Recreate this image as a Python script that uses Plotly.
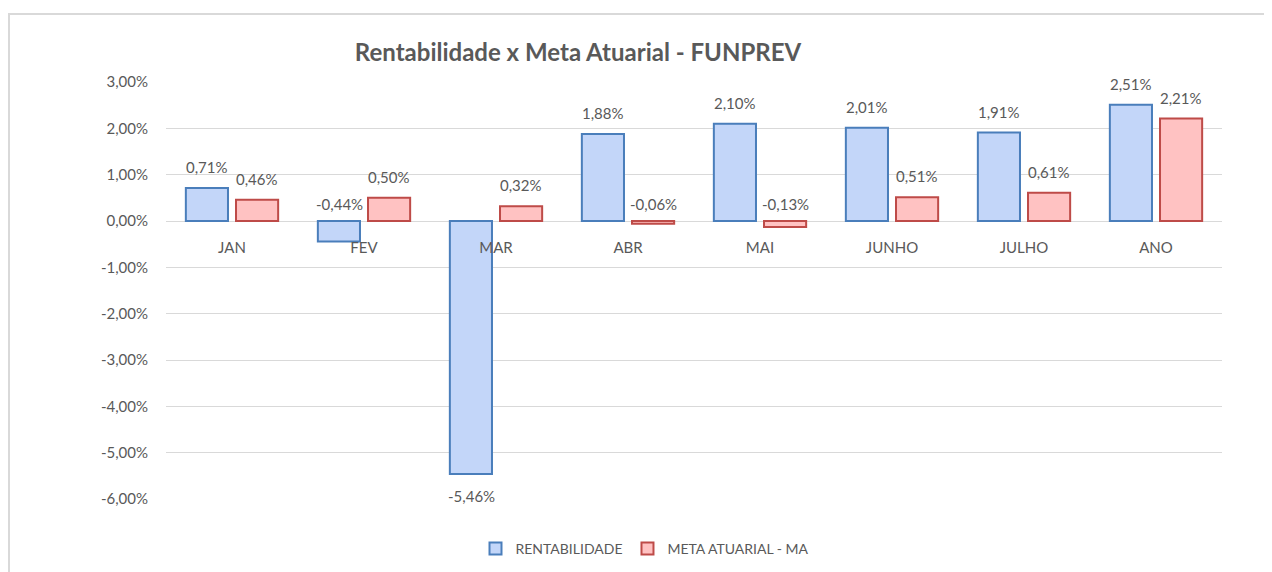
import plotly.graph_objects as go

categories = ["JAN", "FEV", "MAR", "ABR", "MAI", "JUNHO", "JULHO", "ANO"]
rentabilidade = [0.71, -0.44, -5.46, 1.88, 2.10, 2.01, 1.91, 2.51]
meta_atuarial = [0.46, 0.50, 0.32, -0.06, -0.13, 0.51, 0.61, 2.21]
y_ticks = [3, 2, 1, 0, -1, -2, -3, -4, -5, -6]

# page body has an 8px margin: work in figure coords = screen coords - 8
OFF = 8
W, H = 1272 - OFF, 572 - OFF
PLOT_TOP, PLOT_BOTTOM = 82, 499
L, T = 166 - OFF, PLOT_TOP - OFF
R = W - (1222 - OFF)
B = H - (PLOT_BOTTOM - OFF)
GRAY = "#595959"
FONT = "Lato"

def fmt(v):
    return f"{v:.2f}".replace(".", ",") + "%"

fig = go.Figure()
fig.add_trace(go.Bar(
    name="RENTABILIDADE", x=categories, y=rentabilidade,
    marker=dict(color="#C3D6F9", line=dict(color="#4A7EBB", width=2)),
))
fig.add_trace(go.Bar(
    name="META ATUARIAL - MA", x=categories, y=meta_atuarial,
    marker=dict(color="#FFC2C2", line=dict(color="#BE4B48", width=2)),
))

annotations = []
for series, shift in ((rentabilidade, -25), (meta_atuarial, 25)):
    for c, v in zip(categories, series):
        if v >= 0:
            y, ya, ys = v, "bottom", 10
        elif v > -1:
            y, ya, ys = 0, "bottom", 6
        else:
            y, ya, ys = v, "top", -11
        annotations.append(dict(
            x=c, y=y, xref="x", yref="y", text=fmt(v), showarrow=False,
            xshift=shift, yshift=ys, yanchor=ya, xanchor="center",
            font=dict(family=FONT, size=15, color=GRAY),
        ))

pw = W - L - R
ph = H - T - B
def px_x(x):
    return (x - OFF - L) / pw
def px_y(y):
    return (H - B - (y - OFF)) / ph

fig.update_layout(
    width=W, height=H,
    margin=dict(l=L, r=R, t=T, b=B, autoexpand=False),
    paper_bgcolor="white", plot_bgcolor="white",
    separators=",.",
    barmode="group", bargap=0.24, bargroupgap=0.16,
    title=dict(
        text="<b>Rentabilidade x Meta Atuarial - FUNPREV</b>",
        x=(578 - OFF) / W, xref="container", xanchor="center",
        y=1 - (53 - OFF) / H, yref="container", yanchor="middle",
        font=dict(family=FONT, size=24, color=GRAY),
    ),
    font=dict(family=FONT, color=GRAY),
    showlegend=True,
    legend=dict(
        orientation="h", x=px_x(645), xanchor="center",
        y=px_y(549), yanchor="middle",
        font=dict(family=FONT, size=14, color=GRAY),
        itemwidth=30,
    ),
    xaxis=dict(
        anchor="free", position=6 / 9,
        showgrid=False, showline=False, zeroline=False,
        ticks="outside", ticklen=13, tickcolor="rgba(0,0,0,0)",
        tickfont=dict(family=FONT, size=15, color=GRAY),
    ),
    yaxis=dict(
        range=[-6, 3], tickvals=y_ticks,
        ticktext=[fmt(v) for v in y_ticks],
        showgrid=True, gridcolor="#D9D9D9", gridwidth=1,
        zeroline=True, zerolinecolor="#D9D9D9", zerolinewidth=1,
        showline=False, ticks="outside", ticklen=14, tickcolor="rgba(0,0,0,0)",
        tickfont=dict(family=FONT, size=15, color=GRAY),
    ),
    annotations=annotations,
    shapes=[dict(
        type="rect", xref="paper", yref="paper",
        x0=px_x(9), x1=px_x(1271), y0=px_y(600), y1=px_y(14),
        line=dict(color="#D9D9D9", width=2), fillcolor="rgba(0,0,0,0)",
        layer="below",
    )],
)

fig.write_html("out.html")
